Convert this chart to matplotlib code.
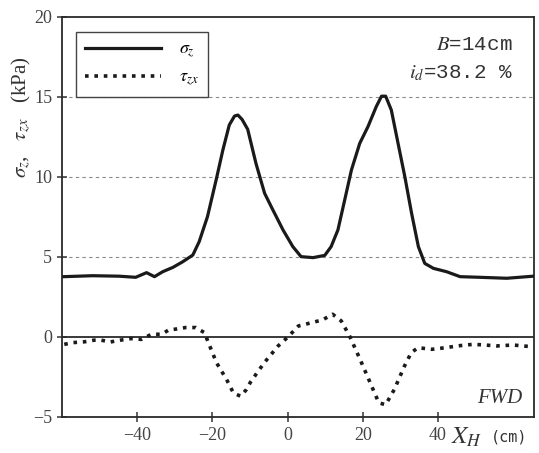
import matplotlib.pyplot as plt
from matplotlib.lines import Line2D

# sigma_z profile (kPa) vs horizontal position X_H (cm)
sig_x = [-59.5, -51.9, -44.8, -40.4, -37.5, -35.4, -33.2, -30.5, -27.9, -25.2, -23.5,
         -21.3, -19.0, -17.2, -15.5, -14.1, -13.2, -12.1, -10.6, -8.4, -6.1, -3.9,
         -1.2, 1.4, 3.6, 6.8, 9.9, 11.6, 13.4, 15.2, 17.0, 19.2, 21.4, 23.6, 25.0,
         26.1, 27.6, 29.4, 31.2, 33.0, 34.8, 36.5, 38.8, 42.3, 45.9, 51.2, 58.3, 65.4]
sig_z = [3.77, 3.83, 3.8, 3.73, 4.02, 3.77, 4.08, 4.35, 4.7, 5.12, 5.96,
         7.52, 9.81, 11.69, 13.25, 13.81, 13.87, 13.6, 12.98, 10.85, 8.98, 7.94,
         6.69, 5.65, 5.02, 4.96, 5.1, 5.65, 6.69, 8.56, 10.44, 12.1, 13.15, 14.4, 15.05,
         15.05, 14.19, 12.1, 10.02, 7.73, 5.65, 4.6, 4.29, 4.08, 3.77, 3.73, 3.67, 3.8]

# tau_zx profile (kPa)
tau_x = [-59.4, -57, -54, -51.5, -49.8, -47.1, -44.5, -41.6, -38.9, -36.2, -33.5,
         -31.6, -29.5, -27.1, -24.4, -22.1, -20.7, -18.9, -16.2, -14.4, -12.5, -11,
         -9.8, -6.2, -2.5, 0.2, 2.9, 6.5, 9.3, 12, 14.3, 16.5, 19.3, 22, 24.3, 26.1,
         28.4, 31.1, 32.9, 34.7, 38.4, 42, 45.5, 49.3, 52.5, 55.6, 60, 64.5]
tau_zx = [-0.46, -0.35, -0.3, -0.2, -0.19, -0.31, -0.2, -0.10, -0.15, 0.17, 0.17,
          0.44, 0.5, 0.59, 0.59, 0.27, -0.56, -1.61, -2.66, -3.5, -3.7, -3.3,
          -2.8, -1.61, -0.56, 0.02, 0.69, 0.9, 1.07, 1.42, 1.0, 0.06, -1.4, -2.87, -4.12,
          -4.23, -3.28, -1.82, -0.98, -0.67, -0.77, -0.67, -0.55, -0.46, -0.5, -0.56,
          -0.5, -0.6]

xticks = [-40, -20, 0, 20, 40]
yticks = [-5, 0, 5, 10, 15, 20]
grid_levels = [5, 10, 15]

plt.rcParams['font.family'] = ['Liberation Serif', 'DejaVu Serif']
plt.rcParams['mathtext.fontset'] = 'stix'

ink = '#2a2a2a'
fig = plt.figure(figsize=(5.39, 4.53), dpi=100)
ax = fig.add_axes([0.115, 0.0795, 0.876, 0.883])

for g in grid_levels:
    ax.axhline(g, color='#8a8a8a', lw=0.8, ls=(0, (3, 3)), zorder=1)
ax.axhline(0, color=ink, lw=1.3, zorder=2)

ax.plot(sig_x, sig_z, color='#1a1a1a', lw=2.3, zorder=3, solid_joinstyle='round')
ax.plot(tau_x, tau_zx, color='#1a1a1a', lw=2.6, ls=(0, (1, 1.6)), zorder=3)

ax.set_xlim(-60, 65.6)
ax.set_ylim(-5, 20)
ax.set_xticks(xticks)
ax.set_yticks(yticks)
ax.set_xticklabels(['\u221240', '\u221220', '0', '20', '40'])
ax.set_yticklabels(['\u22125', '0', '5', '10', '15', '20'])
ax.tick_params(direction='inout', length=7, width=1.2, labelsize=13, colors='#444444')
for s in ax.spines.values():
    s.set_linewidth(1.3)
    s.set_color(ink)

handles = [Line2D([], [], color='#1a1a1a', lw=2.3),
           Line2D([], [], color='#1a1a1a', lw=2.6, ls=(0, (1, 1.6)))]
leg = ax.legend(handles, ['$\\sigma_z$', '$\\tau_{zx}$'], loc='upper left',
                bbox_to_anchor=(0.01, 0.985), fancybox=False, framealpha=1,
                edgecolor='#444444', fontsize=13, handlelength=4.2,
                borderpad=0.5, labelspacing=0.5, handletextpad=1.0)
leg.get_frame().set_linewidth(1.0)

ax.text(0.955, 0.93, '$B$=14cm', transform=ax.transAxes, ha='right', va='center',
        fontsize=15, family='Liberation Mono', color='#333333')
ax.text(0.955, 0.86, '$i_d$=38.2 %', transform=ax.transAxes, ha='right', va='center',
        fontsize=15, family='Liberation Mono', color='#333333')
ax.text(0.975, 0.045, 'FWD', transform=ax.transAxes, ha='right', va='center',
        fontsize=15, style='italic', color='#333333')

fig.text(0.865, 0.035, '$X_H$', ha='center', va='center', fontsize=18, color='#333333')
fig.text(0.945, 0.035, '(cm)', ha='center', va='center', fontsize=11,
         family='DejaVu Sans Mono', color='#333333')
fig.text(0.04, 0.74, '$\\sigma_z$,   $\\tau_{zx}$   (kPa)', rotation=90, ha='center',
         va='center', fontsize=15, color='#333333')

fig.savefig('out.png', dpi=100)
